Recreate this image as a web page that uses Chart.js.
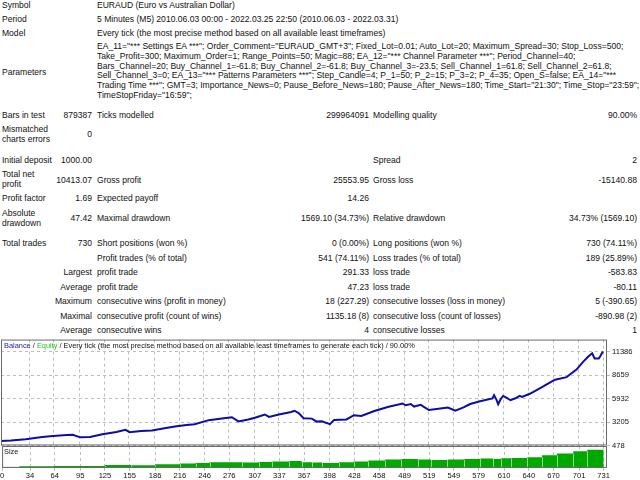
<!DOCTYPE html>
<html lang="en">
<head>
<meta charset="UTF-8">
<title>Strategy Tester Report EURAUD</title>
<script src="https://cdn.jsdelivr.net/npm/chart.js"></script>
<style>
  body { margin: 0; width: 640px; height: 480px; overflow: hidden; background: #fff;
         font-family: "Liberation Sans", Arial, sans-serif; font-size: 8.55px; color: #111; }
  .t { position: absolute; white-space: nowrap; line-height: 10px; }
  .p { position: absolute; left: 97px; top: 42px; line-height: 9.8px; white-space: nowrap; }
  #balanceBox { position: absolute; left: 0; top: 333px; width: 640px; height: 119px; }
  #sizeBox { position: absolute; left: 0; top: 445px; width: 640px; height: 35px; }
  .cap { position: absolute; font-size: 7.4px; white-space: nowrap; line-height: 8px; }
</style>
</head>
<body>
<div class="t" style="left:2px;top:0px">Symbol</div>
<div class="t" style="left:97px;top:0px">EURAUD (Euro vs Australian Dollar)</div>
<div class="t" style="left:2px;top:14px">Period</div>
<div class="t" style="left:97px;top:14px">5 Minutes (M5) 2010.06.03 00:00 - 2022.03.25 22:50 (2010.06.03 - 2022.03.31)</div>
<div class="t" style="left:2px;top:28px">Model</div>
<div class="t" style="left:97px;top:28px">Every tick (the most precise method based on all available least timeframes)</div>
<div class="t" style="left:2px;top:67px">Parameters</div>
<div class="p">EA_11="*** Settings EA ***"; Order_Comment="EURAUD_GMT+3"; Fixed_Lot=0.01; Auto_Lot=20; Maximum_Spread=30; Stop_Loss=500;<br>Take_Profit=300; Maximum_Order=1; Range_Points=50; Magic=88; EA_12="*** Channel Parameter ***"; Period_Channel=40;<br>Bars_Channel=20; Buy_Channel_1=-61.8; Buy_Channel_2=-61.8; Buy_Channel_3=-23.5; Sell_Channel_1=61.8; Sell_Channel_2=61.8;<br>Sell_Channel_3=0; EA_13="*** Patterns Parameters ***"; Step_Candle=4; P_1=50; P_2=15; P_3=2; P_4=35; Open_S=false; EA_14="***<br>Trading Time ***"; GMT=3; Importance_News=0; Pause_Before_News=180; Pause_After_News=180; Time_Start="21:30"; Time_Stop="23:59";<br>TimeStopFriday="16:59";</div>

<div class="t" style="left:2px;top:110px">Bars in test</div>
<div class="t" style="right:548px;top:110px">879387</div>
<div class="t" style="left:97px;top:110px">Ticks modelled</div>
<div class="t" style="right:271px;top:110px">299964091</div>
<div class="t" style="left:373px;top:110px">Modelling quality</div>
<div class="t" style="right:3px;top:110px">90.00%</div>

<div class="t" style="left:2px;top:124px">Mismatched<br>charts errors</div>
<div class="t" style="right:548px;top:129px">0</div>

<div class="t" style="left:2px;top:155px">Initial deposit</div>
<div class="t" style="right:548px;top:155px">1000.00</div>
<div class="t" style="left:373px;top:155px">Spread</div>
<div class="t" style="right:3px;top:155px">2</div>

<div class="t" style="left:2px;top:169px">Total net<br>profit</div>
<div class="t" style="right:548px;top:175px">10413.07</div>
<div class="t" style="left:97px;top:175px">Gross profit</div>
<div class="t" style="right:271px;top:175px">25553.95</div>
<div class="t" style="left:373px;top:175px">Gross loss</div>
<div class="t" style="right:3px;top:175px">-15140.88</div>

<div class="t" style="left:2px;top:193px">Profit factor</div>
<div class="t" style="right:548px;top:193px">1.69</div>
<div class="t" style="left:97px;top:193px">Expected payoff</div>
<div class="t" style="right:271px;top:193px">14.26</div>

<div class="t" style="left:2px;top:208px">Absolute<br>drawdown</div>
<div class="t" style="right:548px;top:213px">47.42</div>
<div class="t" style="left:97px;top:213px">Maximal drawdown</div>
<div class="t" style="right:271px;top:213px">1569.10 (34.73%)</div>
<div class="t" style="left:373px;top:213px">Relative drawdown</div>
<div class="t" style="right:3px;top:213px">34.73% (1569.10)</div>

<div class="t" style="left:2px;top:238px">Total trades</div>
<div class="t" style="right:548px;top:238px">730</div>
<div class="t" style="left:97px;top:238px">Short positions (won %)</div>
<div class="t" style="right:271px;top:238px">0 (0.00%)</div>
<div class="t" style="left:373px;top:238px">Long positions (won %)</div>
<div class="t" style="right:3px;top:238px">730 (74.11%)</div>

<div class="t" style="left:97px;top:253px">Profit trades (% of total)</div>
<div class="t" style="right:271px;top:253px">541 (74.11%)</div>
<div class="t" style="left:373px;top:253px">Loss trades (% of total)</div>
<div class="t" style="right:3px;top:253px">189 (25.89%)</div>

<div class="t" style="right:548px;top:267px">Largest</div>
<div class="t" style="left:97px;top:267px">profit trade</div>
<div class="t" style="right:271px;top:267px">291.33</div>
<div class="t" style="left:373px;top:267px">loss trade</div>
<div class="t" style="right:3px;top:267px">-583.83</div>

<div class="t" style="right:548px;top:282px">Average</div>
<div class="t" style="left:97px;top:282px">profit trade</div>
<div class="t" style="right:271px;top:282px">47.23</div>
<div class="t" style="left:373px;top:282px">loss trade</div>
<div class="t" style="right:3px;top:282px">-80.11</div>

<div class="t" style="right:548px;top:296px">Maximum</div>
<div class="t" style="left:97px;top:296px">consecutive wins (profit in money)</div>
<div class="t" style="right:271px;top:296px">18 (227.29)</div>
<div class="t" style="left:373px;top:296px">consecutive losses (loss in money)</div>
<div class="t" style="right:3px;top:296px">5 (-390.65)</div>

<div class="t" style="right:548px;top:311px">Maximal</div>
<div class="t" style="left:97px;top:311px">consecutive profit (count of wins)</div>
<div class="t" style="right:271px;top:311px">1135.18 (8)</div>
<div class="t" style="left:373px;top:311px">consecutive loss (count of losses)</div>
<div class="t" style="right:3px;top:311px">-890.98 (2)</div>

<div class="t" style="right:548px;top:325px">Average</div>
<div class="t" style="left:97px;top:325px">consecutive wins</div>
<div class="t" style="right:271px;top:325px">4</div>
<div class="t" style="left:373px;top:325px">consecutive losses</div>
<div class="t" style="right:3px;top:325px">1</div>

<div id="balanceBox"><canvas id="balanceChart"></canvas></div>
<div id="sizeBox"><canvas id="sizeChart"></canvas></div>
<div class="cap" style="left:4px;top:342px"><span style="color:#2020c0">Balance</span> / <span style="color:#20c020">Equity</span> / Every tick (the most precise method based on all available least timeframes to generate each tick) / 90.00%</div>
<div class="cap" style="left:4px;top:448px">Size</div>

<script>
// trade numbers on the x axis and the right-hand balance labels
const xTicks = [0, 34, 64, 95, 125, 155, 186, 216, 246, 276, 307, 337, 367, 398, 428, 458, 489, 519, 549, 579, 610, 640, 670, 701, 731];
const yTicks = [478, 3205, 5932, 8659, 11386];

// balance curve (trade #, balance)
const tradeNo = [0, 12, 30, 50, 63, 80, 87, 96, 108, 123, 140, 151, 156, 170, 183, 200, 211, 225, 235, 252,
  268, 280, 288, 300, 308, 320, 325, 337, 352, 356, 361, 367, 377, 383, 389, 399, 404, 419, 428, 437,
  452, 469, 487, 491, 497, 501, 509, 519, 533, 542, 551, 561, 569, 581, 596, 598, 601, 603, 606, 609,
  613, 618, 624, 629, 632, 642, 654, 664, 672, 686, 690, 698, 706, 712, 717, 720, 725, 727, 730];
const balance = [1000, 1060, 1200, 1450, 1580, 1680, 1720, 1420, 1450, 1780, 2050, 2300, 2020, 2150, 2230, 2500, 2680, 2850, 2950, 3420,
  3620, 3760, 3280, 3500, 3700, 4080, 3800, 4080, 4380, 4518, 4250, 3650, 3600, 3250, 3300, 2960, 3450, 3500, 4000, 3900,
  4450, 4950, 5350, 5150, 5300, 5000, 5200, 4600, 4780, 4880, 4520, 4900, 5300, 5620, 5950, 6330, 5780, 5270, 5850, 6240,
  6050, 5740, 5970, 6240, 6130, 6520, 7150, 7700, 8130, 8420, 8730, 9300, 10200, 10790, 11200, 10600, 10600, 10880, 11413];

// lot size blocks (first trade of block, lots)
const sizeStart = [0, 21, 61, 125, 157, 186, 216, 235, 252, 292, 312, 328, 349, 364, 376, 389, 409, 427, 445, 465,
  485, 505, 521, 541, 561, 581, 597, 606, 618, 638, 656, 674, 694, 711, 731];
const sizeLots = [0.02, 0.05, 0.06, 0.09, 0.08, 0.11, 0.13, 0.15, 0.17, 0.16, 0.18, 0.19, 0.21, 0.17, 0.16, 0.15, 0.17, 0.19, 0.22, 0.25,
  0.27, 0.25, 0.24, 0.25, 0.27, 0.28, 0.27, 0.29, 0.30, 0.32, 0.38, 0.43, 0.50, 0.55, 0.55];

const gridColor = '#bdbdbd';
const axisFont = { family: 'Liberation Sans', size: 7.6 };

const framePlugin = {
  id: 'frame',
  afterDraw(chart) {
    const a = chart.chartArea, ctx = chart.ctx;
    ctx.save();
    ctx.strokeStyle = '#6a6a6a';
    ctx.lineWidth = 1;
    ctx.strokeRect(a.left + 0.5, a.top + 0.5, a.right - a.left - 1, a.bottom - a.top - 1);
    ctx.restore();
  }
};

// light separators between lot size blocks
const blockLines = {
  id: 'blockLines',
  afterDatasetsDraw(chart) {
    const x = chart.scales.x, y = chart.scales.y, ctx = chart.ctx;
    ctx.save();
    ctx.strokeStyle = 'rgba(255,255,255,0.55)';
    ctx.lineWidth = 1;
    for (let i = 1; i < sizeStart.length - 1; i++) {
      const px = Math.round(x.getPixelForValue(sizeStart[i])) + 0.5;
      ctx.beginPath();
      ctx.moveTo(px, y.getPixelForValue(0));
      ctx.lineTo(px, y.getPixelForValue(Math.min(sizeLots[i], sizeLots[i - 1])));
      ctx.stroke();
    }
    ctx.restore();
  }
};

const xScaleBase = {
  type: 'linear',
  min: 0,
  max: 735,
  afterBuildTicks: s => { s.ticks = xTicks.map(v => ({ value: v })); },
  border: { display: false, dash: [3, 3] },
  grid: { color: gridColor }
};

new Chart(document.getElementById('balanceChart'), {
  type: 'line',
  data: {
    datasets: [{
      label: 'Balance',
      data: tradeNo.map((t, i) => ({ x: t, y: balance[i] })),
      borderColor: '#0c0ca6',
      borderWidth: 2,
      pointRadius: 0,
      tension: 0
    }]
  },
  options: {
    responsive: true,
    maintainAspectRatio: false,
    animation: false,
    layout: { padding: { left: 1, top: 1, right: 0, bottom: 0 } },
    plugins: { legend: { display: false }, tooltip: { enabled: false } },
    scales: {
      x: Object.assign({}, xScaleBase, {
        ticks: { display: false },
        grid: { color: gridColor, drawTicks: false }
      }),
      y: {
        position: 'right',
        min: 478,
        max: 12800,
        afterBuildTicks: s => { s.ticks = yTicks.map(v => ({ value: v })); },
        afterFit: s => { s.width = 33; },
        border: { display: false, dash: [3, 3] },
        grid: { color: gridColor, tickLength: 3 },
        ticks: { color: '#111', font: axisFont, padding: 2, callback: v => String(v) }
      }
    }
  },
  plugins: [framePlugin]
});

new Chart(document.getElementById('sizeChart'), {
  type: 'line',
  data: {
    datasets: [{
      label: 'Size',
      data: sizeStart.map((t, i) => ({ x: t, y: sizeLots[i] })),
      stepped: 'before',
      borderWidth: 0,
      borderColor: '#00a800',
      backgroundColor: '#00a800',
      fill: 'origin',
      pointRadius: 0
    }]
  },
  options: {
    responsive: true,
    maintainAspectRatio: false,
    animation: false,
    layout: { padding: { left: 1, top: 1, right: 33, bottom: 0 } },
    plugins: { legend: { display: false }, tooltip: { enabled: false } },
    scales: {
      x: Object.assign({}, xScaleBase, {
        grid: { color: gridColor, tickLength: 3 },
        ticks: { color: '#111', font: axisFont, padding: 0, autoSkip: false, maxRotation: 0, callback: v => String(v) }
      }),
      y: { display: false, min: 0, max: 0.66 }
    }
  },
  plugins: [blockLines, framePlugin]
});
</script>
</body>
</html>
